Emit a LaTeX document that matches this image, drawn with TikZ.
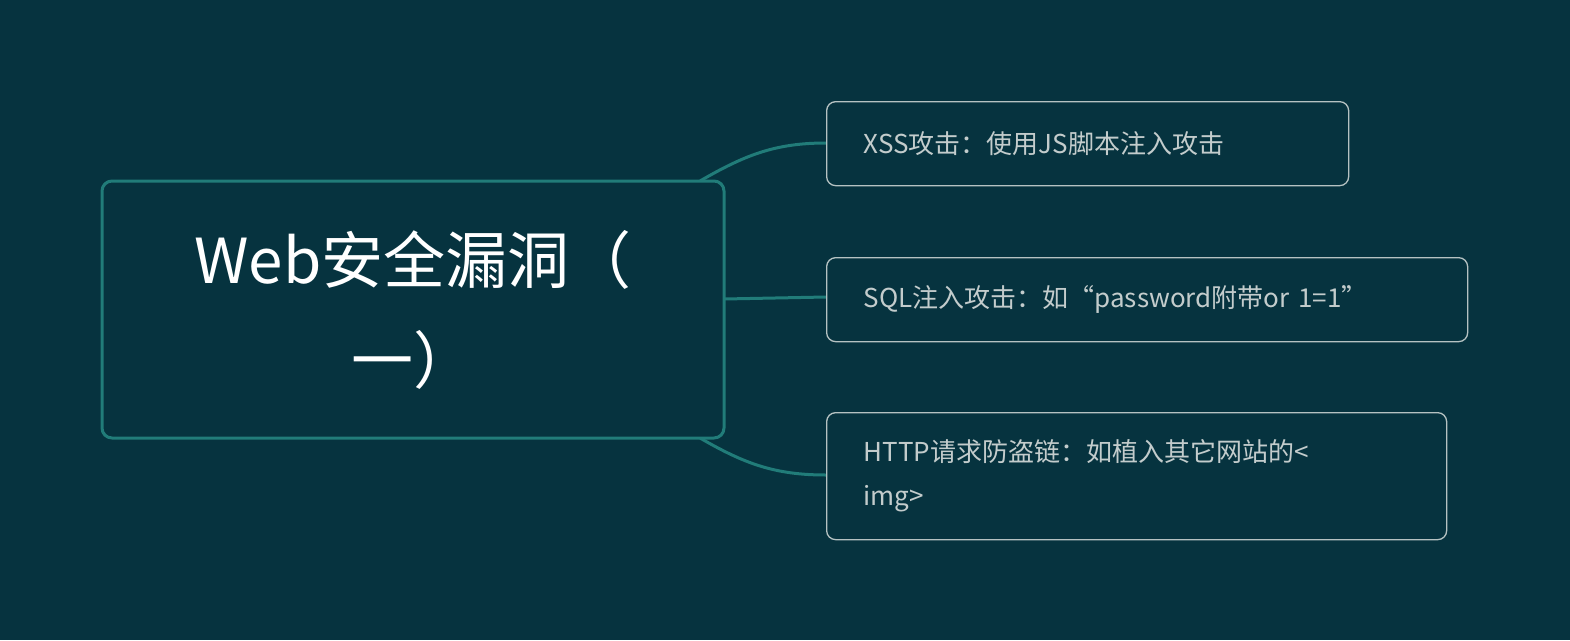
\documentclass[tikz,border=0pt]{standalone}
\usepackage{fontspec}
\setmainfont{Noto Sans CJK SC}
\definecolor{bgcol}{HTML}{06333F}
\definecolor{teallink}{HTML}{217C79}
\definecolor{leafline}{HTML}{B5C2C2}
\definecolor{leaftext}{HTML}{C3CCCC}
\begin{document}
\begin{tikzpicture}[x=1pt,y=-1pt]

		\tikzstyle{topic}=[rectangle,rounded corners=10pt,
			fill=bgcol,draw=teallink,line width=3pt,
			minimum height=257pt,minimum width=622pt,
			text width=560pt,align=center,text=white,
			font=\fontsize{62}{100}\selectfont]
		\tikzstyle{leaf}=[rectangle,rounded corners=9pt,
			fill=bgcol,draw=leafline,line width=1.3pt,
			inner xsep=37pt,anchor=north west,
			align=left,text=leaftext,
			font=\fontsize{26}{44}\selectfont]
		\tikzstyle{link}=[draw=teallink,line width=3pt]

		\fill[bgcol] (0,0) rectangle (1570,640);

		\coordinate (xssfoot) at (700,181);
		\coordinate (httpfoot) at (700,438);
		\draw[link] (xssfoot) to[out=30,in=180] (826,143);
		\draw[link] (httpfoot) to[out=-30,in=180] (826,475);
		\draw[link] (724,299) -- (826,297);

		\node[topic] (web) at (413,309.5) {Web安全漏洞（\\一）};
		\node[leaf,minimum width=522pt,minimum height=84pt,text width=448pt] (xss) at (826,101) {XSS攻击：使用JS脚本注入攻击};
		\node[leaf,minimum width=641pt,minimum height=84pt,text width=567pt] (sql) at (826,257) {SQL注入攻击：如“password附带or 1=1”};
		\node[leaf,minimum width=620pt,minimum height=127pt,text width=546pt] (http) at (826,412) {HTTP请求防盗链：如植入其它网站的<\\img>};

	\end{tikzpicture}
\end{document}
